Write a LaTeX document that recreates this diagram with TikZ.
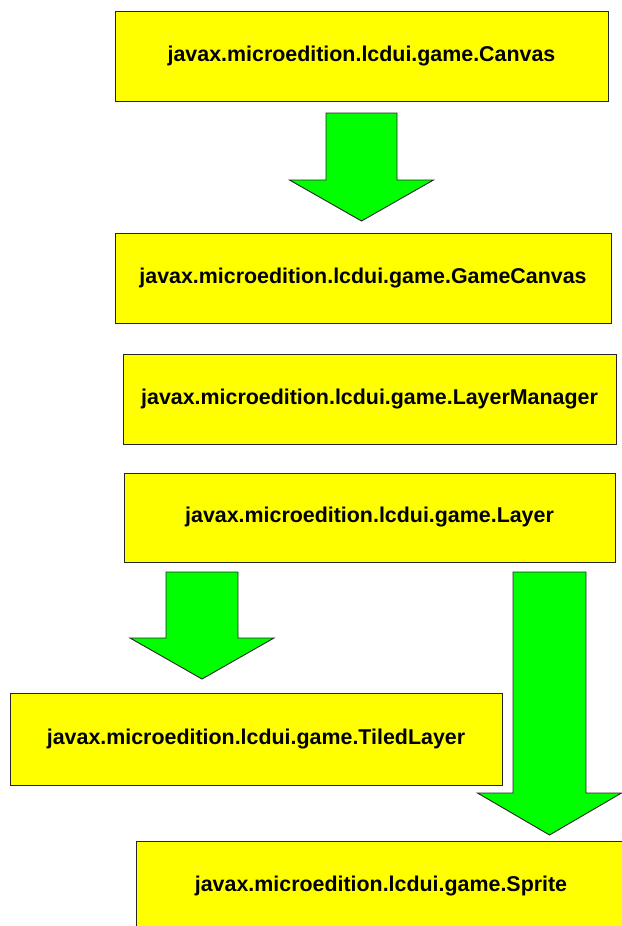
\documentclass[tikz,border=0pt]{standalone}
\usepackage{fontspec}
\setmainfont{Liberation Sans}
\begin{document}
\begin{tikzpicture}[x=1pt,y=-1pt,
  classbox/.style={draw=black!85, line width=1pt, fill=boxyellow, inner sep=0pt,
    font=\fontsize{21.4}{24}\selectfont\bfseries, text=black},
  blockarrow/.style={draw=black!85, line width=0.9pt, fill=arrowgreen, line join=miter}]
\definecolor{boxyellow}{HTML}{FFFF00}
\definecolor{arrowgreen}{HTML}{00FF00}
\useasboundingbox (0,0) rectangle (621,926);

% class boxes: width x height, placed by centre
\node[classbox, minimum width=493pt, minimum height=90pt] (canvas)     at (361.5,56)  {javax.microedition.lcdui.game.Canvas};
\node[classbox, minimum width=496pt, minimum height=90pt] (gamecanvas) at (363,278)   {javax.microedition.lcdui.game.GameCanvas};
\node[classbox, minimum width=493pt, minimum height=90pt] (layermgr)   at (369.5,399) {javax.microedition.lcdui.game.LayerManager};
\node[classbox, minimum width=491pt, minimum height=89pt] (layer)      at (369.5,517.5) {javax.microedition.lcdui.game.Layer};
\node[classbox, minimum width=492pt, minimum height=92pt] (tiled)      at (256,739)   {javax.microedition.lcdui.game.TiledLayer};
\node[classbox, minimum width=490pt, minimum height=90pt] (sprite)     at (381,886)   {javax.microedition.lcdui.game.Sprite};

% block arrow: #1 centre x, #2 top, #3 head start, #4 tip, #5 half shaft, #6 half head
\newcommand{\blockarrowat}[6]{%
  \draw[blockarrow] (#1-#5,#2) -- (#1+#5,#2) -- (#1+#5,#3) -- (#1+#6,#3)
    -- (#1,#4) -- (#1-#6,#3) -- (#1-#5,#3) -- cycle;}

% Canvas -> GameCanvas
\blockarrowat{361.5}{113}{180}{221}{35.5}{72}
% Layer -> TiledLayer
\blockarrowat{202}{572}{638}{679}{36}{72}
% Layer -> Sprite
\blockarrowat{549.5}{572}{793}{835}{36.5}{72}
\end{tikzpicture}
\end{document}
